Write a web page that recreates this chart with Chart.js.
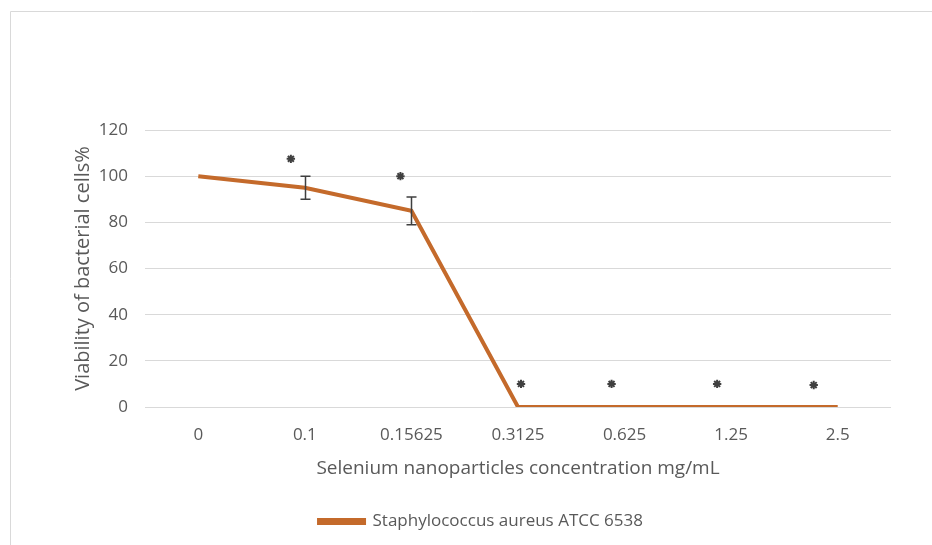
<!DOCTYPE html>
<html>
<head>
<meta charset="utf-8">
<script src="https://cdn.jsdelivr.net/npm/chart.js@4/dist/chart.umd.min.js"></script>
<style>
  html, body { margin: 0; padding: 0; background: #ffffff; }
  #wrap { position: relative; width: 932px; height: 545px; }
</style>
</head>
<body>
<div id="wrap"><canvas id="c" width="932" height="545"></canvas></div>
<script>
// Concentrations tested (mg/mL)
const concentrations = ['0', '0.1', '0.15625', '0.3125', '0.625', '1.25', '2.5'];
// Mean viability (%) of S. aureus ATCC 6538
const viability = [100, 95, 85, 0, 0, 0, 0];
// Standard deviation of viability (%)
const viabilitySD = [0, 5, 6, 0, 0, 0, 0];
// Height (%) at which the significance asterisk sits for each concentration
const significanceLevel = [null, 107.5, 100, 10, 10, 10, 9.5];
// Y axis ticks
const yTicks = [0, 20, 40, 60, 80, 100, 120];

const seriesName = 'Staphylococcus aureus ATCC 6538';
const lineColor = '#C46A2B';
const textColor = '#595959';
const gridColor = '#D9D9D9';
const fontFamily = '"Open Sans", "Noto Sans", sans-serif';

// Light frame around the figure
const framePlugin = {
  id: 'frame',
  beforeDraw(chart) {
    const ctx = chart.ctx;
    ctx.save();
    ctx.strokeStyle = '#D9D9D9';
    ctx.lineWidth = 1;
    ctx.beginPath();
    ctx.moveTo(10.5, chart.height);
    ctx.lineTo(10.5, 11.5);
    ctx.lineTo(chart.width, 11.5);
    ctx.stroke();
    ctx.restore();
  }
};

// Error bars (mean ± SD) for the viability series
const errorBarPlugin = {
  id: 'errorBars',
  afterDatasetsDraw(chart) {
    const ctx = chart.ctx;
    const meta = chart.getDatasetMeta(0);
    const y = chart.scales.y;
    ctx.save();
    ctx.strokeStyle = '#3F3F3F';
    ctx.lineWidth = 1.5;
    meta.data.forEach((pt, i) => {
      const sd = viabilitySD[i];
      if (!sd) return;
      const x = Math.round(pt.x) + 0.5;
      const top = y.getPixelForValue(viability[i] + sd);
      const bot = y.getPixelForValue(viability[i] - sd);
      ctx.beginPath();
      ctx.moveTo(x, top); ctx.lineTo(x, bot);
      ctx.moveTo(x - 5, top); ctx.lineTo(x + 5, top);
      ctx.moveTo(x - 5, bot); ctx.lineTo(x + 5, bot);
      ctx.stroke();
    });
    ctx.restore();
  }
};

// Significance asterisks above each treated concentration
const asteriskPlugin = {
  id: 'asterisks',
  afterDatasetsDraw(chart, args, opts) {
    const ctx = chart.ctx;
    const xs = chart.scales.x;
    const ys = chart.scales.y;
    const nudge = opts.nudge || [];
    ctx.save();
    ctx.strokeStyle = '#404040';
    ctx.lineWidth = 2;
    significanceLevel.forEach((v, i) => {
      if (v === null) return;
      const cx = xs.getPixelForValue(i) + (nudge[i] || 0);
      const cy = ys.getPixelForValue(v);
      const r = 4.2;
      ctx.beginPath();
      for (let k = 0; k < 4; k++) {
        const a = k * Math.PI / 4;
        ctx.moveTo(cx - r * Math.cos(a), cy - r * Math.sin(a));
        ctx.lineTo(cx + r * Math.cos(a), cy + r * Math.sin(a));
      }
      ctx.stroke();
    });
    ctx.restore();
  }
};

new Chart(document.getElementById('c'), {
  type: 'line',
  data: {
    labels: concentrations,
    datasets: [{
      label: seriesName,
      data: viability,
      borderColor: lineColor,
      backgroundColor: lineColor,
      borderWidth: 4,
      pointRadius: 0,
      pointHoverRadius: 0,
      tension: 0,
      fill: false
    }]
  },
  options: {
    responsive: false,
    animation: false,
    devicePixelRatio: 1,
    layout: { padding: { top: 130, right: 41, left: 71, bottom: 5 } },
    plugins: {
      legend: {
        position: 'bottom',
        labels: {
          color: textColor,
          font: { family: fontFamily, size: 17 },
          boxWidth: 45,
          boxHeight: 3,
          padding: 11
        }
      },
      tooltip: { enabled: false },
      asterisks: { nudge: [0, -14, -11, 3, -13, -14, -24] }
    },
    scales: {
      x: {
        offset: true,
        afterFit(scale) { scale.height = 95; },
        grid: { display: false, drawTicks: false },
        border: { display: false },
        ticks: {
          color: textColor,
          font: { family: fontFamily, size: 17 },
          padding: 18,
          maxRotation: 0
        },
        title: {
          display: true,
          text: 'Selenium nanoparticles concentration mg/mL',
          color: textColor,
          font: { family: fontFamily, size: 19 },
          padding: { top: 0, bottom: 22 }
        }
      },
      y: {
        min: 0,
        max: 120,
        afterBuildTicks(scale) {
          scale.ticks = yTicks.map(v => ({ value: v }));
        },
        afterFit(scale) { scale.width = 74; },
        grid: { color: gridColor, lineWidth: 1, drawTicks: false },
        border: { display: false },
        ticks: {
          color: textColor,
          font: { family: fontFamily, size: 17 },
          padding: 17
        },
        title: {
          display: true,
          text: 'Viability of bacterial cells%',
          color: textColor,
          font: { family: fontFamily, size: 20 },
          padding: { top: 0, bottom: 0 }
        }
      }
    }
  },
  plugins: [framePlugin, errorBarPlugin, asteriskPlugin]
});
</script>
</body>
</html>
